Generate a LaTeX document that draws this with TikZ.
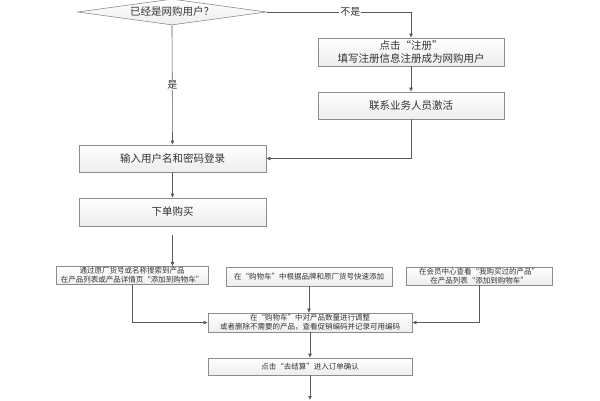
\documentclass[tikz,border=0pt]{standalone}
\usepackage{fontspec}
\setmainfont{Noto Sans CJK SC}
\usepackage{tikz}
\usetikzlibrary{shapes.geometric, arrows.meta, shadows}
\definecolor{txtgray}{HTML}{333333}
\definecolor{linegray}{HTML}{595959}
\definecolor{boxedge}{HTML}{8C8C8C}

\begin{document}
\begin{tikzpicture}[x=1pt, y=-1pt,
    every node/.style={text=txtgray, inner sep=1pt, align=center},
    flowbox/.style={draw=boxedge, top color=white, bottom color=gray!14, line width=0.6pt,
        drop shadow={opacity=0.18, shadow xshift=0.8pt, shadow yshift=-0.8pt},
        font=\fontsize{10.5}{13}\selectfont},
    smallbox/.style={flowbox, font=\fontsize{7.5}{9}\selectfont},
    decide/.style={diamond, draw=boxedge, top color=white, bottom color=gray!14, line width=0.6pt,
        aspect=7.3, inner sep=0pt, font=\fontsize{10.5}{13}\selectfont},
    link/.style={draw=linegray, line width=0.6pt, -{Latex[length=4pt, width=4pt]}},
    tag/.style={fill=white, inner sep=1pt, font=\fontsize{10}{12}\selectfont}]
    \useasboundingbox (0,0) rectangle (600,400);
    % question and registration branch
    \node[decide, minimum width=189pt, minimum height=26pt] (ask) at (172,12) {已经是网购用户？};
    \node[flowbox, minimum width=186pt, minimum height=28pt] (reg) at (411,52) {点击“注册”\\填写注册信息注册成为网购用户};
    \node[flowbox, minimum width=186pt, minimum height=27pt] (act) at (411,105.5) {联系业务人员激活};
    \node[flowbox, minimum width=187pt, minimum height=27pt] (login) at (172.5,158.5) {输入用户名和密码登录};
    \node[flowbox, minimum width=187pt, minimum height=28pt] (order) at (172.5,212) {下单购买};
    \coordinate (go) at (172.5,235);
    % three ways to fill the cart
    \node[smallbox, minimum width=152pt, minimum height=17pt] (search) at (132,275.5) {通过原厂货号或名称搜索到产品\\在产品列表或产品详情页“添加到购物车”};
    \node[smallbox, minimum width=166pt, minimum height=19pt] (quick) at (309,276.5) {在“购物车”中根据品牌和原厂货号快速添加};
    \node[smallbox, minimum width=146pt, minimum height=18pt] (history) at (479,276) {在会员中心查看“我购买过的产品”\\在产品列表“添加到购物车”};
    \node[smallbox, minimum width=204pt, minimum height=19pt] (cart) at (310,322.5) {在“购物车”中对产品数量进行调整\\或者删除不需要的产品，查看促销编码并记录可用编码};
    \node[smallbox, minimum width=204pt, minimum height=17pt] (pay) at (310,366.5) {点击“去结算”进入订单确认};
    \coordinate (next) at (310,400);
    % edges
    \draw[link] (ask.east) -| node[tag, pos=0.29] {不是} (reg.north);
    \draw[link] (ask.south) -- node[tag] {是} (login.north);
    \draw[link] (reg.south) -- (act.north);
    \draw[link] (act.south) |- (login.east);
    \draw[link] (login.south) -- (order.north);
    \draw[link] (go) -- (go |- search.north);
    \draw[link] (search.south) |- (cart.west);
    \draw[link] (quick.south) -- (quick.south |- cart.north);
    \draw[link] (history.south) |- (cart.east);
    \draw[link] (cart.south) -- (pay.north);
    \draw[link] (pay.south) -- (next);
\end{tikzpicture}
\end{document}
